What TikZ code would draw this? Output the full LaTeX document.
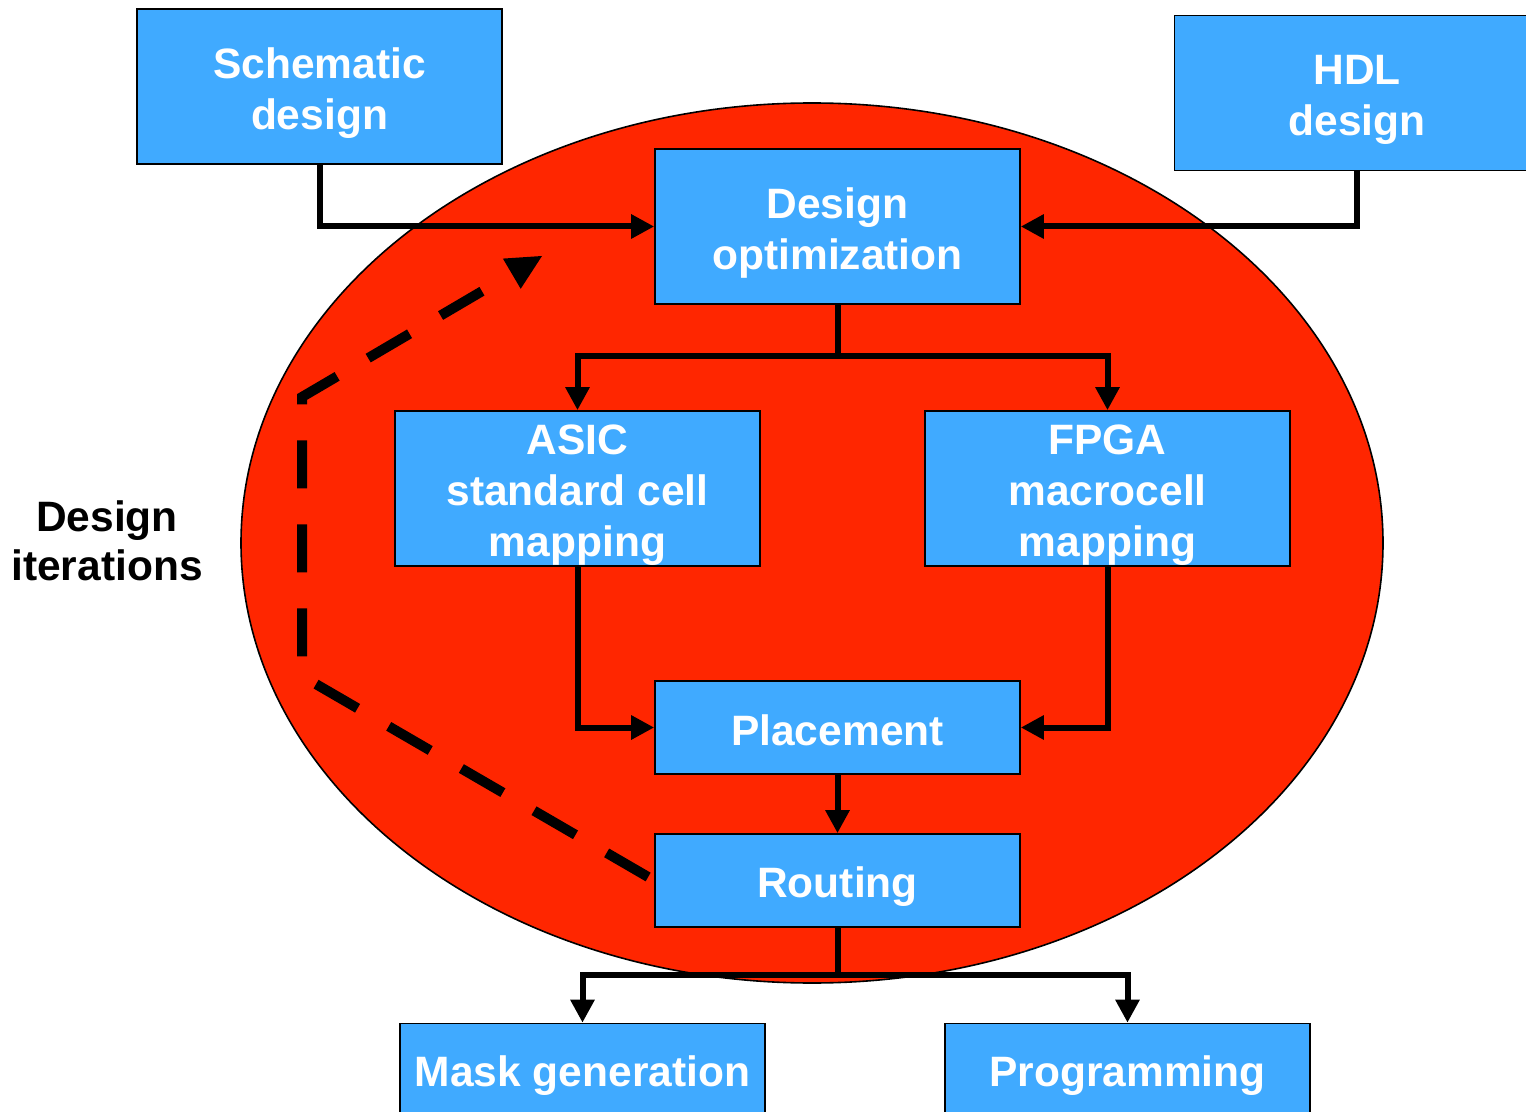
\documentclass[tikz,border=0pt]{standalone}
\usepackage{fontspec}
\setmainfont{Liberation Sans}
\usetikzlibrary{arrows.meta}
\definecolor{boxblue}{RGB}{64,170,255}
\definecolor{ovalred}{RGB}{255,38,0}
\begin{document}
\begin{tikzpicture}[x=0.5pt,y=-0.5pt,
  blk/.style={draw=black, line width=0.8pt, fill=boxblue,
    minimum width=182.5pt, minimum height=77.5pt, inner sep=0pt},
  shortblk/.style={blk, minimum height=46.5pt},
  btxt/.style={text=white, font=\fontsize{21.25}{25.5}\selectfont\bfseries,
    align=center, inner sep=0pt, yshift=-3.4pt},
  stxt/.style={text=white, font=\fontsize{21.25}{25.5}\selectfont\bfseries,
    inner sep=0pt, text depth=0pt, yshift=-0.6pt},
  conn/.style={line width=3pt, -{Triangle[length=11.5pt,width=11.5pt]}},
  plain/.style={line width=3pt},
  iterline/.style={line width=5pt, dash pattern=on 24pt off 18pt, dash phase=38.5pt},
  itertip/.style={fill=black},
  lbl/.style={font=\fontsize{21.25}{24.5}\selectfont\bfseries, align=center, text=black}
]
\useasboundingbox (0,0) rectangle (1526,1112);
\clip (0,0) rectangle (1526,1112);
\fill[white] (0,0) rectangle (1526,1112);

% oval
\draw[fill=ovalred, line width=0.8pt] (812,543) ellipse [x radius=285.5pt, y radius=220pt];

% boxes
\node[blk] (sch) at (319.5,86.5) {};
\node[blk] (hdl) at (1357,93) {};
\node[blk] (opt) at (837.5,226.5) {};
\node[blk] (asic) at (577.5,488.5) {};
\node[blk] (fpga) at (1107.5,488.5) {};
\node[shortblk] (place) at (837.5,727.5) {};
\node[shortblk] (rout) at (837.5,880.5) {};
\node[shortblk] (mask) at (582.5,1070) {};
\node[shortblk] (prog) at (1127.5,1070) {};

% box texts
\node[btxt] (schT) at (sch.center) {Schematic\\design};
\node[btxt, yshift=-0.2pt] (hdlT) at (hdl.center) {HDL\\design};
\node[btxt] (optT) at (opt.center) {Design\\optimization};
\node[btxt] (asicT) at (asic.center) {ASIC\\standard cell\\mapping};
\node[btxt] (fpgaT) at (fpga.center) {FPGA\\macrocell\\mapping};
\node[stxt, yshift=-0.6pt] (placeT) at (place.center) {Placement};
\node[stxt] (routT) at (rout.center) {Routing};
\node[stxt] (maskT) at (mask.center) {Mask generation};
\node[stxt] (progT) at (prog.center) {Programming};

\node[lbl] (iter) at (107,541) {Design\\iterations};

% junctions
\coordinate (j1) at (837.5,356);
\coordinate (j2) at (837.5,975);
\coordinate (d1) at (302,676);
\coordinate (d2) at (302,397);
\coordinate (db) at (511.8,273.7);
\coordinate (dt) at (542,256);
\coordinate (b1) at (502.9,258.6);
\coordinate (b2) at (520.7,288.8);

% connectors
\draw[conn] (sch.south) |- (opt.west);
\draw[conn] (hdl.south) |- (opt.east);
\draw[plain] (opt.south) -- (j1);
\draw[conn] (j1) -| (asic.north);
\draw[conn] (j1) -| (fpga.north);
\draw[conn] (asic.south) |- (place.west);
\draw[conn] (fpga.south) |- (place.east);
\draw[conn] (place.south) -- (rout.north);
\draw[plain] (rout.south) -- (j2);
\draw[conn] (j2) -| (mask.north);
\draw[conn] (j2) -| (prog.north);

% design iteration loop
\draw[iterline] (rout.west) -- (d1) -- (d2) -- (db);
\fill[itertip] (dt) -- (b1) -- (b2) -- cycle;
\end{tikzpicture}
\end{document}
